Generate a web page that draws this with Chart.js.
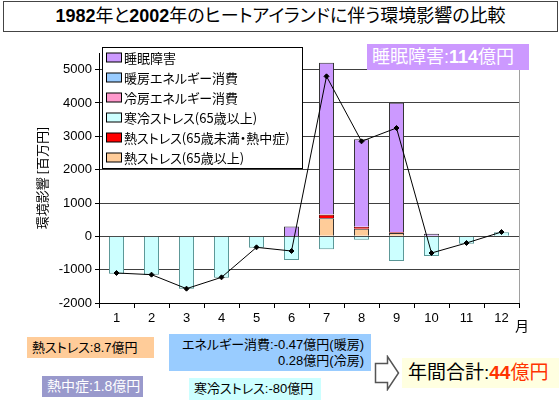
<!DOCTYPE html>
<html lang="ja">
<head>
<meta charset="utf-8">
<script src="https://cdn.jsdelivr.net/npm/chart.js@4.4.1/dist/chart.umd.min.js"></script>
<style>
  body { margin: 0; background: #fff; }
  #wrap { position: relative; width: 560px; height: 400px; font-family: "Liberation Sans", "Noto Sans CJK JP", sans-serif; font-feature-settings: "palt"; }
  #wrap canvas { position: absolute; left: 0; top: 0; }
  .box { position: absolute; box-sizing: border-box; white-space: nowrap; }
  #title { left: 3px; top: 1px; width: 555px; height: 31px; border: 1px solid #444; background: #fff;
           font-size: 18px; line-height: 29px; text-align: center; color: #000; }
  #title b { font-weight: bold; }
  #sleep { left: 367px; top: 44px; width: 162px; height: 26px; background: #cc99ff; color: #fff;
           font-size: 18px; line-height: 26px; padding-left: 5px; }
  #month { left: 515px; top: 315px; font-size: 14px; }
  #heat { left: 27px; top: 337px; width: 127px; height: 21px; background: #ffcc99; font-size: 13px; line-height: 21px; padding-left: 5px; }
  #stroke { left: 42px; top: 376px; width: 101px; height: 21px; background: #9999cc; color: #fff; font-size: 14px; line-height: 21px; padding-left: 5px; }
  #energy { left: 169px; top: 334px; width: 202px; height: 37px; background: #99ccff; font-size: 13px; line-height: 16px; padding: 3px 7px 0 0; text-align: right; }
  #cold { left: 189px; top: 378px; width: 132px; height: 22px; background: #ccffff; font-size: 13px; line-height: 22px; padding-left: 5px; }
  #total { left: 402px; top: 358px; width: 157px; height: 30px; background: #ffffe0; font-size: 19px; line-height: 30px; padding-left: 6px; }
  #total span { color: #ff3300; }
  #arrow { position: absolute; left: 374px; top: 355px; }
</style>
</head>
<body>
<div id="wrap">
  <canvas id="impactChart" width="560" height="400"></canvas>
  <div class="box" id="title"><b>1982</b>年と<b>2002</b>年のヒートアイランドに伴う環境影響の比較</div>
  <div class="box" id="sleep">睡眠障害:<b>114</b>億円</div>
  <div class="box" id="month">月</div>
  <div class="box" id="heat">熱ストレス:8.7億円</div>
  <div class="box" id="stroke">熱中症:1.8億円</div>
  <div class="box" id="energy">エネルギー消費:-0.47億円(暖房)<br>0.28億円(冷房)</div>
  <div class="box" id="cold">寒冷ストレス:-80億円</div>
  <svg id="arrow" width="26" height="36"><path d="M1.5 8.5 H13.5 V1.5 L24.5 18 L13.5 34.5 V27.5 H1.5 Z" fill="#fff" stroke="#555" stroke-width="1.5"/></svg>
  <div class="box" id="total">年間合計:<span><b>44</b>億円</span></div>
</div>
<script>
// 月別の環境影響 [百万円]
const months = ['1', '2', '3', '4', '5', '6', '7', '8', '9', '10', '11', '12'];
const sleepLoss   = [0, 0, 0, 0, 0, 290, 4550, 2620, 3880, 80, 0, 0];
const heatingEnergy = [-8, -8, -7, -5, -2, 0, 0, 0, 0, -2, -5, -10];
const coolingEnergy = [0, 0, 0, 0, 0, 2, 10, 10, 6, 0, 0, 0];
const coldStress  = [-1120, -1150, -1570, -1240, -340, -710, -390, -100, -740, -590, -220, 120];
const heatStroke  = [0, 0, 0, 0, 0, 0, 110, 50, 20, 0, 0, 0];
const heatStress  = [0, 0, 0, 0, 0, 0, 540, 230, 100, 0, 0, 0];
const monthTotal  = [-1100, -1150, -1570, -1230, -330, -440, 4800, 2850, 3250, -500, -200, 130];

const yMin = -2000;
const yMax = 5500;

// グラフ内の凡例 (Excel風に枠付き)
const boxLegend = {
    id: 'boxLegend',
    afterDraw(chart) {
        const ctx = chart.ctx;
        const items = chart.data.datasets.filter(d => d.type !== 'line').slice().reverse();
        ctx.save();
        ctx.fillStyle = '#fff';
        ctx.fillRect(102.5, 47.5, 200, 121);
        ctx.strokeStyle = '#000';
        ctx.lineWidth = 1;
        ctx.strokeRect(102.5, 47.5, 200, 121);
        ctx.font = '13px "Noto Sans CJK JP", sans-serif';
        ctx.textBaseline = 'middle';
        items.forEach((d, i) => {
            const y = 57.5 + i * 20;
            ctx.fillStyle = d.backgroundColor;
            ctx.fillRect(106.5, y - 4.5, 15, 9);
            ctx.strokeStyle = '#000';
            ctx.strokeRect(106.5, y - 4.5, 15, 9);
            ctx.fillStyle = '#000';
            ctx.fillText(d.label, 124, y + 0.5);
        });
        // プロットエリア右端
        const a = chart.chartArea;
        ctx.strokeStyle = '#a0a0a0';
        ctx.beginPath();
        ctx.moveTo(Math.round(a.right) + 0.5, a.top);
        ctx.lineTo(Math.round(a.right) + 0.5, a.bottom);
        ctx.stroke();
        ctx.restore();
    }
};

function barSet(label, data, color, border) {
    return {
        label: label,
        data: data,
        backgroundColor: color,
        borderColor: border || '#333',
        borderWidth: 1,
        stack: 'bars',
        order: 1,
        barPercentage: 0.43,
        categoryPercentage: 1
    };
}

const ctx = document.getElementById('impactChart');
new Chart(ctx, {
    type: 'bar',
    data: {
        labels: months,
        datasets: [
            barSet('熱ストレス(65歳以上)', heatStress, '#ffcc99'),
            barSet('熱ストレス(65歳未満・熱中症)', heatStroke, '#ff0000', '#800000'),
            barSet('寒冷ストレス(65歳以上)', coldStress, '#ccffff', '#5a9696'),
            barSet('冷房エネルギー消費', coolingEnergy, '#ff99cc'),
            barSet('暖房エネルギー消費', heatingEnergy, '#99ccff'),
            barSet('睡眠障害', sleepLoss, '#cc99ff'),
            {
                type: 'line',
                label: '合計',
                data: monthTotal,
                borderColor: '#000',
                borderWidth: 1,
                pointStyle: 'rectRot',
                pointRadius: 2.5,
                pointBackgroundColor: '#000',
                pointBorderColor: '#000',
                stack: 'total',
                order: 0,
                tension: 0
            }
        ]
    },
    options: {
        responsive: false,
        animation: false,
        layout: {
            padding: { left: 30, top: 53, right: 41, bottom: 67 }
        },
        plugins: {
            legend: { display: false },
            tooltip: { enabled: false }
        },
        scales: {
            x: {
                stacked: true,
                offset: true,
                grid: {
                    offset: true,
                    drawOnChartArea: false,
                    tickLength: 5,
                    color: '#000'
                },
                border: { color: '#000' },
                ticks: {
                    color: '#000',
                    padding: 3,
                    font: { family: '"Liberation Sans", sans-serif', size: 13 }
                },
                afterFit(scale) { scale.height = 30; }
            },
            y: {
                stacked: true,
                min: yMin,
                max: yMax,
                grid: {
                    color: '#404040',
                    tickLength: 4,
                    tickColor: '#000'
                },
                border: { color: '#000' },
                ticks: {
                    stepSize: 500,
                    color: '#000',
                    padding: 3,
                    font: { family: '"Liberation Sans", sans-serif', size: 13 },
                    callback: v => (v % 1000 === 0 ? v : '')
                },
                title: {
                    display: true,
                    text: '環境影響 [百万円]',
                    color: '#000',
                    padding: { top: 4, bottom: 0 },
                    font: { family: '"Noto Sans CJK JP", sans-serif', size: 13 }
                },
                afterFit(scale) { scale.width = 69; }
            }
        }
    },
    plugins: [boxLegend]
});
</script>
</body>
</html>
